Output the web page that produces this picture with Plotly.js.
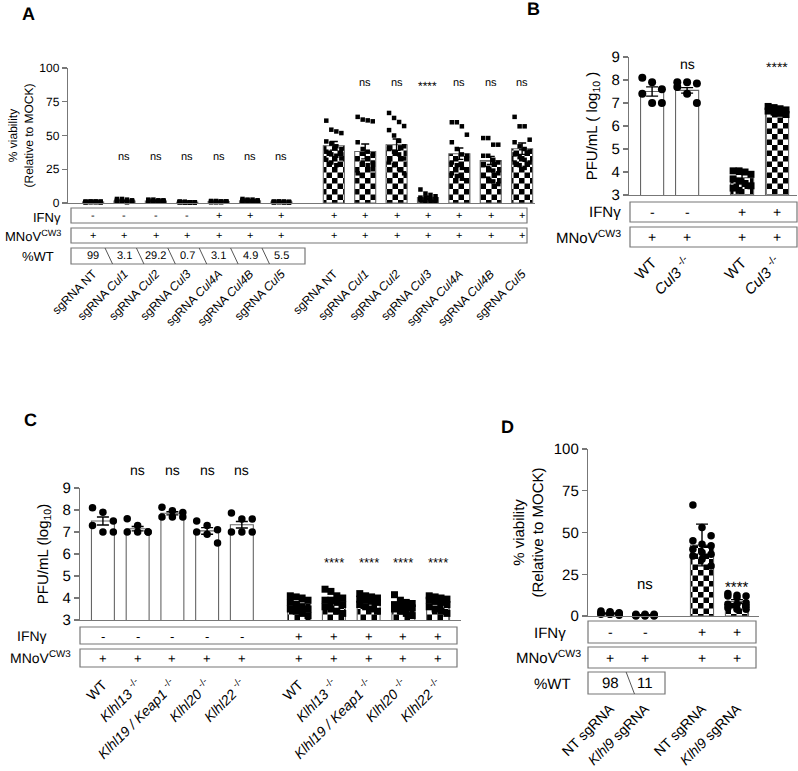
<!DOCTYPE html>
<html><head><meta charset="utf-8">
<script src="https://cdn.plot.ly/plotly-3.0.1.min.js"></script>
<style>body{margin:0;background:#fff}#chart{width:798px;height:771px}svg text{text-rendering:geometricPrecision}</style>
</head><body><div id="chart"></div>
<script>
// ---------------- Panel A ----------------
const aLabels = ['sgRNA NT','sgRNA <i>Cul1</i>','sgRNA <i>Cul2</i>','sgRNA <i>Cul3</i>','sgRNA <i>Cul4A</i>','sgRNA <i>Cul4B</i>','sgRNA <i>Cul5</i>'];
const aIfnG1 = ['-','-','-','-','+','+','+'];
const aIfnG2 = ['+','+','+','+','+','+','+'];
const aMnov = ['+','+','+','+','+','+','+'];
const aPctWT = ['99','3.1','29.2','0.7','3.1','4.9','5.5'];
const aSigG1 = ['','ns','ns','ns','ns','ns','ns'];
const aSigG2 = ['','ns','ns','****','ns','ns','ns'];
const aMeanG1 = [0.8,1.5,1.5,0.6,1.0,1.6,0.8];
const aErrG1 = [0.1,0.3,0.2,0.1,0.1,0.3,0.1];
const aMeanG2 = [42.4,38.2,43.2,4.0,36.5,31.5,40.2];
const aErrG2 = [3.2,5.5,4.2,1.0,4.2,3.0,4.2];
const aPtsG1 = [
 [1,1,1,0.5,0.5,1,1,0.5,1,0.5,1,1,0.5,1,0.5,1],
 [3,3,2.5,2,2,1.5,1.5,1,1,1,1,1,1,1,0.5,1],
 [2.5,2.5,2,2,2,1.5,1.5,1.5,1,1,1,1,1,1,1,1],
 [0.5,0.5,0.5,0.5,1,0.5,0.5,0.5,1,0.5,0.5,0.5,0.5,1,0.5,0.5],
 [1.5,1.5,1,1,1,1,1,1,0.5,0.5,1,1,1,1,0.5,1],
 [3,2.5,2.5,2,2,2,1.5,1.5,1.5,1,1,1,1,1,1,1],
 [1,1,1,0.5,0.5,1,0.5,0.5,1,0.5,1,0.5,0.5,1,0.5,1]
];
const aPtsG2 = [
 [61,54.3,53,51.8,45.6,44,42,40,38,36,35,33,32,30,28,36],
 [63.8,61.8,61.2,60.5,45,40,38,35,33,30,28,25,22,20,25,30],
 [66.7,63,60,57,54,50,46,42,40,38,36,33,30,28,25,22],
 [10,7,6,5,4,4,3,3,3,2,2,2,2,1,1,1],
 [59.8,59.8,56.8,50.6,45,40,36,33,30,28,26,24,22,20,18,35],
 [48.1,48.1,43.2,43.2,35,35,32,30,28,26,24,22,20,18,16,14],
 [63.8,56.8,56.8,46.9,45,42,40,38,36,34,32,30,30,28,26,38]
];
// ---------------- Panel B ----------------
const bLabels = ['WT','<i>Cul3</i> <sup>-/-</sup>','WT','<i>Cul3</i> <sup>-/-</sup>'];
const bIfn = ['-','-','+','+'];
const bMnov = ['+','+','+','+'];
const bSig = ['','ns','','****'];
const bMean = [7.5,7.55,3.75,6.7];
const bErr = [0.2,0.12,0.15,0.05];
const bPts = [
 [8.1,7.9,7.6,7.4,7.0,7.0],
 [7.9,7.9,7.85,7.7,7.4,7.0],
 [4.05,4.05,4.0,3.9,3.7,3.6,3.5,3.4,3.3,3.2],
 [6.85,6.8,6.75,6.7,6.65,6.6,6.55,6.5]
];
// ---------------- Panel C ----------------
const cLabels = ['WT','<i>Klhl13</i> <sup>-/-</sup>','<i>Klhl19 / Keap1</i> <sup>-/-</sup>','<i>Klhl20</i> <sup>-/-</sup>','<i>Klhl22</i> <sup>-/-</sup>'];
const cIfnG1 = ['-','-','-','-','-'];
const cIfnG2 = ['+','+','+','+','+'];
const cMnov = ['+','+','+','+','+'];
const cSigG1 = ['','ns','ns','ns','ns'];
const cSigG2 = ['','****','****','****','****'];
const cMeanG1 = [7.5,7.15,7.85,7.05,7.33];
const cErrG1 = [0.18,0.1,0.07,0.15,0.15];
const cMeanG2 = [3.75,3.85,3.9,3.65,3.8];
const cErrG2 = [0.08,0.1,0.06,0.08,0.07];
const cPtsG1 = [
 [8.1,7.9,7.5,7.3,7.0,7.0],
 [7.6,7.3,7.0,7.0,7.0,7.0],
 [8.13,7.97,7.89,7.68,7.68,7.68],
 [7.5,7.3,7.1,7.0,6.9,6.5],
 [7.86,7.59,7.59,7.0,7.0,7.0]
];
const cPtsG2 = [
 [4.1,4.05,4.0,3.9,3.8,3.7,3.6,3.5,3.5,3.4,3.3,3.2],
 [4.4,4.3,4.1,4.0,3.9,3.9,3.8,3.7,3.6,3.5,3.4,3.3],
 [4.2,4.1,4.05,4.0,3.95,3.9,3.85,3.8,3.7,3.6,3.5,3.4],
 [4.15,3.9,3.8,3.75,3.7,3.65,3.6,3.55,3.5,3.4,3.3,3.2],
 [4.1,4.05,4.0,3.95,3.9,3.85,3.8,3.7,3.6,3.5,3.4,3.3]
];
// ---------------- Panel D ----------------
const dLabels = ['NT sgRNA','<i>Klhl9</i> sgRNA','NT sgRNA','<i>Klhl9</i> sgRNA'];
const dIfn = ['-','-','+','+'];
const dMnov = ['+','+','+','+'];
const dPctWT = ['98','11'];
const dSig = ['','ns','','****'];
const dMean = [1.5,0.6,42.5,8.6];
const dErr = [0.3,0.15,12.5,1.2];
const dPts = [
 [3,2.5,2,2,2,1.5,1.5,1,1,1,1,0.5],
 [1,1,1,0.5,0.5,0.5,0.5,0.5,0.5,0,0,0],
 [66.5,53,48,45,43,42,40,38,37,36,34,30],
 [13.5,12.5,12,12,11,8,7,7,6,5,4,4]
];

// ---------------- helpers ----------------
const W = 798, H = 771;
const FONT = 'Liberation Sans, Arial, Helvetica, sans-serif';
const CHK = 'rgb(1, 2, 3)';
const P = x => x / W, Q = y => 1 - y / H;
function pos(n, gapAt, gap) { const r = []; for (let i = 0; i < n; i++) r.push(i < gapAt ? i : i + gap); return r; }
const axA = pos(14, 7, 0.67), axB = pos(4, 2, 0.57), axC = pos(10, 5, 0.65), axD = pos(4, 2, 0.63);

const traces = [];
function bars(xs, means, errs, xa, ya, checker, width, capw) {
  traces.push({type:'bar', x: xs, y: means, xaxis: xa, yaxis: ya, width: width,
    marker: {color: checker ? CHK : 'white', line: {color: '#666', width: 1.1}},
    error_y: {type:'data', array: errs, visible: true, color: 'black', thickness: 1.4, width: capw},
    cliponaxis: false, hoverinfo: 'skip', showlegend: false});
}
function points(xs, pts, xa, ya, symbol, size, cols, step) {
  const X = [], Y = [];
  pts.forEach((arr, g) => arr.forEach((v, i) => {
    const c = Math.min(cols, arr.length);
    X.push(xs[g] + ((i % c) - (c - 1) / 2) * step); Y.push(v);
  }));
  traces.push({type:'scatter', mode:'markers', x: X, y: Y, xaxis: xa, yaxis: ya, cliponaxis: false,
    marker: {symbol: symbol, size: size, color: 'black', line: {width: 0}}, hoverinfo: 'skip', showlegend: false});
}

// Panel A
bars(axA.slice(0,7), aMeanG1, aErrG1, 'x', 'y', false, 0.67, 4);
bars(axA.slice(7), aMeanG2, aErrG2, 'x', 'y', true, 0.67, 4);
points(axA.slice(0,7), aPtsG1, 'x', 'y', 'square', 4.5, 4, 0.16);
points(axA.slice(7), aPtsG2, 'x', 'y', 'square', 4.5, 4, 0.16);
// Panel B
bars(axB.slice(0,2), bMean.slice(0,2), bErr.slice(0,2), 'x2', 'y2', false, 0.66, 6);
bars(axB.slice(2), bMean.slice(2), bErr.slice(2), 'x2', 'y2', true, 0.66, 6);
points(axB.slice(0,2), bPts.slice(0,2), 'x2', 'y2', 'circle', 8, 3, 0.28);
points(axB.slice(2), bPts.slice(2), 'x2', 'y2', 'square', 7, 4, 0.17);
// Panel C
bars(axC.slice(0,5), cMeanG1, cErrG1, 'x3', 'y3', false, 0.66, 6);
bars(axC.slice(5), cMeanG2, cErrG2, 'x3', 'y3', true, 0.66, 6);
points(axC.slice(0,5), cPtsG1, 'x3', 'y3', 'circle', 7.5, 3, 0.3);
points(axC.slice(5), cPtsG2, 'x3', 'y3', 'square', 7, 4, 0.17);
// Panel D
bars(axD.slice(0,2), dMean.slice(0,2), dErr.slice(0,2), 'x4', 'y4', false, 0.66, 6);
bars(axD.slice(2), dMean.slice(2), dErr.slice(2), 'x4', 'y4', true, 0.66, 6);
points(axD, dPts, 'x4', 'y4', 'circle', 7.5, 3, 0.26);

// ---------------- axes ----------------
function xAx(domPx, range, vals, text, fs, standoff, ya) {
  return {domain: [P(domPx[0]), P(domPx[1])], range: range, anchor: ya, showline: true, linecolor: '#777', linewidth: 1.2,
    showgrid: false, zeroline: false, ticks: '', tickvals: vals, ticktext: text, tickangle: -45,
    tickfont: {family: FONT, size: fs, color: 'black'}, ticklabelstandoff: standoff, fixedrange: true};
}
function yAx(domPx, range, dtick, fs, title, tfs, standoff, xa) {
  return {domain: [Q(domPx[1]), Q(domPx[0])], range: range, dtick: dtick, tick0: range[0], anchor: xa,
    showline: true, linecolor: '#777', linewidth: 1.2, showgrid: false, zeroline: false,
    ticks: 'outside', ticklen: 5, tickcolor: '#777', tickwidth: 1.2,
    tickfont: {family: FONT, size: fs, color: 'black'},
    title: {text: title, font: {family: FONT, size: tfs, color: 'black'}, standoff: standoff}, fixedrange: true};
}

const shapes = [], ann = [];
function box(x0, y0, x1, y1) {
  shapes.push({type:'rect', xref:'paper', yref:'paper', x0: P(x0), x1: P(x1), y0: Q(y1), y1: Q(y0),
    line: {color:'#777', width: 1.2}, fillcolor: 'rgba(0,0,0,0)'});
}
function txt(text, x, y, xref, fs, opts) {
  ann.push(Object.assign({text: text, x: xref === 'paper' ? P(x) : x, y: Q(y), xref: xref, yref: 'paper',
    showarrow: false, font: {family: FONT, size: fs, color: 'black'}, xanchor: 'center', yanchor: 'middle'}, opts || {}));
}
function row(xs, signs, xref, y, fs) { signs.forEach((s, i) => { if (s) txt(s, xs[i], y, xref, fs); }); }
function diag(xref, xm, d, y0, y1) {
  shapes.push({type:'line', xref: xref, yref:'paper', x0: xm - d, x1: xm + d, y0: Q(y0), y1: Q(y1), line:{color:'#555', width: 1}});
}

// Panel A table
box(71, 208, 527, 223); box(71, 228, 527, 243); box(71, 248, 305, 264);
row(axA, aIfnG1.concat(aIfnG2), 'x', 216, 11);
row(axA, aMnov.concat(aMnov), 'x', 236, 11);
row(axA.slice(0,7), aPctWT, 'x', 256, 11);
for (let i = 0; i < 6; i++) diag('x', (axA[i] + axA[i+1]) / 2, 0.12, 248, 264);
txt('IFNγ', 63, 217, 'paper', 13, {xanchor:'right'});
txt('MNoV<sup>CW3</sup>', 63, 236, 'paper', 13, {xanchor:'right'});
txt('%WT', 56, 257, 'paper', 13, {xanchor:'right'});
row(axA.slice(0,7), aSigG1, 'x', 157, 11);
aSigG2.forEach((s, i) => { if (s) txt(s, axA[7+i], s === 'ns' ? 83 : 86, 'x', s === 'ns' ? 11 : 12); });
// Panel B table
box(630, 202, 797, 222); box(630, 227, 797, 247);
row(axB, bIfn, 'x2', 212, 14); row(axB, bMnov, 'x2', 237, 14);
txt('IFNγ', 623, 212, 'paper', 15, {xanchor:'right'});
txt('MNoV<sup>CW3</sup>', 623, 237, 'paper', 15, {xanchor:'right'});
bSig.forEach((s, i) => { if (s) txt(s, axB[i], s === 'ns' ? 64 : 67, 'x2', 14); });
// Panel C table
box(80, 627, 457, 644); box(80, 649, 457, 667);
row(axC, cIfnG1.concat(cIfnG2), 'x3', 636, 13); row(axC, cMnov.concat(cMnov), 'x3', 658, 13);
txt('IFNγ', 49, 636, 'paper', 14, {xanchor:'right'});
txt('MNoV<sup>CW3</sup>', 73, 657, 'paper', 14, {xanchor:'right'});
cSigG1.forEach((s, i) => { if (s) txt(s, axC[i], 470, 'x3', 14); });
cSigG2.forEach((s, i) => { if (s) txt(s, axC[5+i], 562, 'x3', 13); });
// Panel D table
box(588, 621, 756, 643); box(588, 647, 756, 668); box(588, 672, 665, 694);
row(axD, dIfn, 'x4', 632, 14); row(axD, dMnov, 'x4', 658, 14);
row(axD.slice(0,2), dPctWT, 'x4', 683, 15);
diag('x4', (axD[0] + axD[1]) / 2 + 0.08, 0.12, 672, 694);
txt('IFNγ', 568, 633, 'paper', 15, {xanchor:'right'});
txt('MNoV<sup>CW3</sup>', 583, 657, 'paper', 15, {xanchor:'right'});
txt('%WT', 573, 684, 'paper', 15, {xanchor:'right'});
dSig.forEach((s, i) => { if (s) txt(s, axD[i], s === 'ns' ? 584 : 587, 'x4', 15); });
// Panel letters
txt('<b>A</b>', 28, 14, 'paper', 18);
txt('<b>B</b>', 533, 9, 'paper', 18);
txt('<b>C</b>', 30, 420, 'paper', 18);
txt('<b>D</b>', 507, 427, 'paper', 18);

const layout = {
  width: W, height: H, margin: {l:0, r:0, t:0, b:0}, paper_bgcolor: 'white', plot_bgcolor: 'rgba(0,0,0,0)',
  bargap: 0, showlegend: false, font: {family: FONT, color: 'black'},
  xaxis: xAx([68, 535], [-0.8, 14.08], axA, aLabels.concat(aLabels), 12, 58, 'y'),
  yaxis: yAx([68, 203], [0, 100], 25, 12, '% viability<br>(Relative to MOCK)', 12, 3, 'x'),
  xaxis2: xAx([629, 797], [-0.66, 4.14], axB, bLabels, 15, 52, 'y2'),
  yaxis2: yAx([57, 195], [3, 9], 1, 15, 'PFU/mL ( log<sub>10</sub> )', 15, 10, 'x2'),
  xaxis3: xAx([80, 461], [-0.66, 10.31], axC, cLabels.concat(cLabels), 14, 50, 'y3'),
  yaxis3: yAx([488, 620], [3, 9], 1, 15, 'PFU/mL (log<sub>10</sub>)', 15, 10, 'x3'),
  xaxis4: xAx([588, 759], [-0.63, 4.26], axD, dLabels, 14, 78, 'y4'),
  yaxis4: yAx([449, 616], [0, 100], 25, 15, '% viability<br>(Relative to MOCK)', 15, 6, 'x4'),
  shapes: shapes, annotations: ann
};

function applyChecker(gd) {
  const svg = gd.querySelector('svg.main-svg');
  const NS = 'http://www.w3.org/2000/svg';
  let defs = svg.querySelector('defs');
  if (!defs) { defs = document.createElementNS(NS, 'defs'); svg.insertBefore(defs, svg.firstChild); }
  if (!svg.querySelector('#chk')) {
    const pat = document.createElementNS(NS, 'pattern');
    pat.setAttribute('id', 'chk'); pat.setAttribute('patternUnits', 'userSpaceOnUse');
    pat.setAttribute('width', '11'); pat.setAttribute('height', '11');
    const bg = document.createElementNS(NS, 'rect');
    bg.setAttribute('width', '11'); bg.setAttribute('height', '11'); bg.setAttribute('fill', 'white');
    pat.appendChild(bg);
    [[0,0],[5.5,5.5]].forEach(([x,y]) => {
      const r = document.createElementNS(NS, 'rect');
      r.setAttribute('x', x); r.setAttribute('y', y); r.setAttribute('width', '5.5'); r.setAttribute('height', '5.5'); r.setAttribute('fill', 'black');
      pat.appendChild(r);
    });
    defs.appendChild(pat);
  }
  gd.querySelectorAll('.bars path').forEach(p => {
    if (p.style.fill === CHK) p.style.fill = 'url(#chk)';
  });
}
const gd = document.getElementById('chart');
Plotly.newPlot(gd, traces, layout, {staticPlot: true, displayModeBar: false}).then(() => applyChecker(gd));
</script></body></html>
